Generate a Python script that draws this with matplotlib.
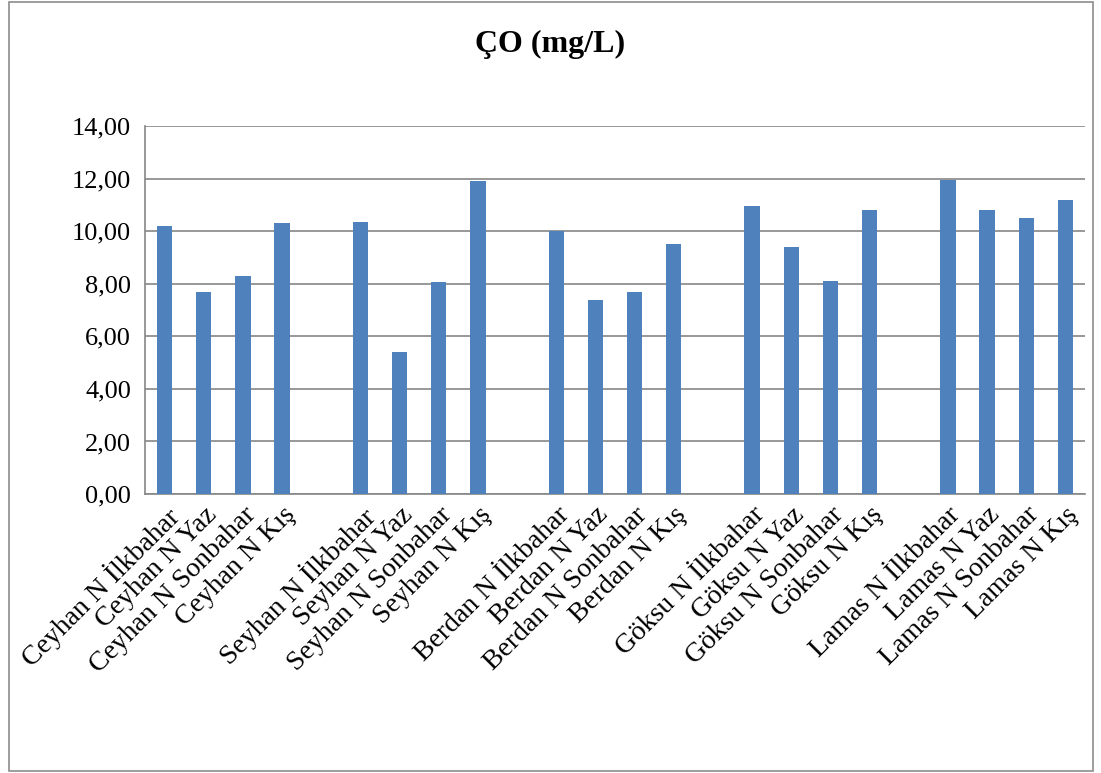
import matplotlib
matplotlib.use("Agg")
import matplotlib.pyplot as plt
from matplotlib.patches import Rectangle

plt.rcParams['font.family'] = ['Liberation Serif', 'DejaVu Serif']

rivers = ["Ceyhan", "Seyhan", "Berdan", "Göksu", "Lamas"]
seasons = ["İlkbahar", "Yaz", "Sonbahar", "Kış"]
ceyhan = [10.20, 7.70, 8.30, 10.30]
seyhan = [10.35, 5.40, 8.05, 11.90]
berdan = [10.00, 7.40, 7.70, 9.50]
goksu = [10.95, 9.40, 8.10, 10.80]
lamas = [11.95, 10.80, 10.50, 11.20]
values = [ceyhan, seyhan, berdan, goksu, lamas]

fig = plt.figure(figsize=(11.01, 7.73), dpi=100)
fig.patches.append(Rectangle((0.008, 0.003), 0.985, 0.994, transform=fig.transFigure,
                             fill=False, edgecolor="#8c8c8c", linewidth=1.2))
ax = fig.add_axes([0.1317, 0.3609, 0.8538, 0.476])

xs, ys, labels = [], [], []
for i, (r, vals) in enumerate(zip(rivers, values)):
    for j, (s, v) in enumerate(zip(seasons, vals)):
        xs.append(i * 5 + j)
        ys.append(v)
        labels.append(f"{r} N {s}")

ax.bar(xs, ys, width=0.39, color="#4F81BD", zorder=3)
ax.set_xlim(-0.5, 23.5)
ax.set_ylim(0, 14)
ax.set_yticks(range(0, 15, 2))
ax.set_yticklabels([f"{v:.2f}".replace(".", ",") for v in range(0, 15, 2)], fontsize=19)
ax.set_xticks(xs)
ax.set_xticklabels(labels, rotation=45, ha="right", va="top", rotation_mode="anchor", fontsize=20)
ax.tick_params(axis="both", length=0, pad=10)
ax.tick_params(axis="x", pad=6)
ax.grid(axis="y", color="#868686", linewidth=1.2, zorder=0)
for side in ["top", "right"]:
    ax.spines[side].set_visible(False)
for side in ["left", "bottom"]:
    ax.spines[side].set_color("#868686")
    ax.spines[side].set_linewidth(1.2)

fig.text(0.5, 0.942, "ÇO (mg/L)", ha="center", va="center", fontsize=23, fontweight="bold")

fig.savefig("out.png", dpi=100)
